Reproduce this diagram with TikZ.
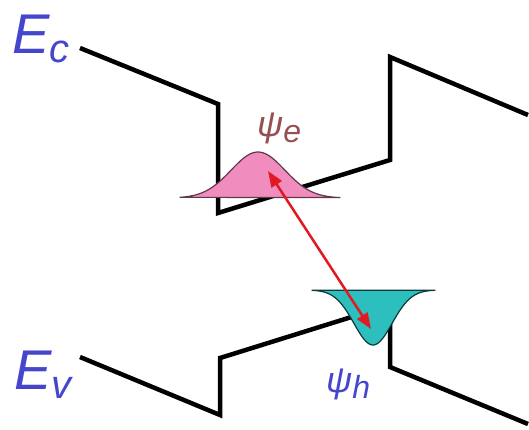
\documentclass[tikz,border=0pt]{standalone}
\usepackage{fontspec}
\setmainfont{Liberation Sans}
\usetikzlibrary{arrows.meta}
\definecolor{LabelBlue}{RGB}{70,70,205}
\definecolor{PsiBrown}{RGB}{150,80,80}
\definecolor{WavePink}{RGB}{240,140,190}
\definecolor{WaveTeal}{RGB}{45,190,190}
\definecolor{ArrowRed}{RGB}{225,25,35}
\newcommand{\lowsub}[3]{\raisebox{-#1}{\fontsize{#2}{#2}\selectfont #3}}
\tikzset{
  band/.style={line width=4.5pt, black, miter limit=10},
  wave/.style={line width=1.2pt, line join=round},
  bandlabel/.style={text=LabelBlue, font=\fontsize{56}{56}\selectfont\itshape, inner sep=0pt, anchor=base west},
  psilabel/.style={font=\fontsize{36}{36}\selectfont\itshape, inner sep=0pt, anchor=base west},
  transition/.style={{Triangle[length=16pt,width=12pt]}-{Triangle[length=16pt,width=12pt]}, line width=2.5pt, ArrowRed},
}
\begin{document}
\begin{tikzpicture}[x=1pt, y=-1pt]
  \useasboundingbox (0,0) rectangle (529,429);
  % band edges
  \draw[band] (80,48) -- (218,104) -- (218,213) -- (390,160) -- (390,57) -- (528,115);
  \draw[band] (80,357) -- (220,415) -- (220,358) -- (390,305) -- (390,367) -- (528,424);
  % wavefunctions
  \filldraw[wave, fill=WavePink, draw=WavePink!40!black]
    plot[domain=180:340, samples=80] (\x, {198-46*exp(-(((\x-258)/38)^2))}) -- cycle;
  \filldraw[wave, fill=WaveTeal, draw=WaveTeal!30!black]
    plot[domain=312:435, samples=80] (\x, {290+55*exp(-(((\x-373)/27)^2))}) -- cycle;
  % recombination
  \coordinate (eTop) at (268,171);
  \coordinate (hBot) at (371,329);
  \draw[transition] (eTop) -- (hBot);
  \node[bandlabel] (Ec) at (12,53) {E\lowsub{9pt}{40}{c}};
  \node[bandlabel] (Ev) at (14,389) {E\lowsub{9pt}{40}{v}};
  \node[psilabel, text=PsiBrown] (psiE) at (257,136) {ψ\lowsub{6pt}{32}{e}};
  \node[psilabel, text=LabelBlue] (psiH) at (326,392) {ψ\lowsub{6pt}{32}{h}};
\end{tikzpicture}
\end{document}
